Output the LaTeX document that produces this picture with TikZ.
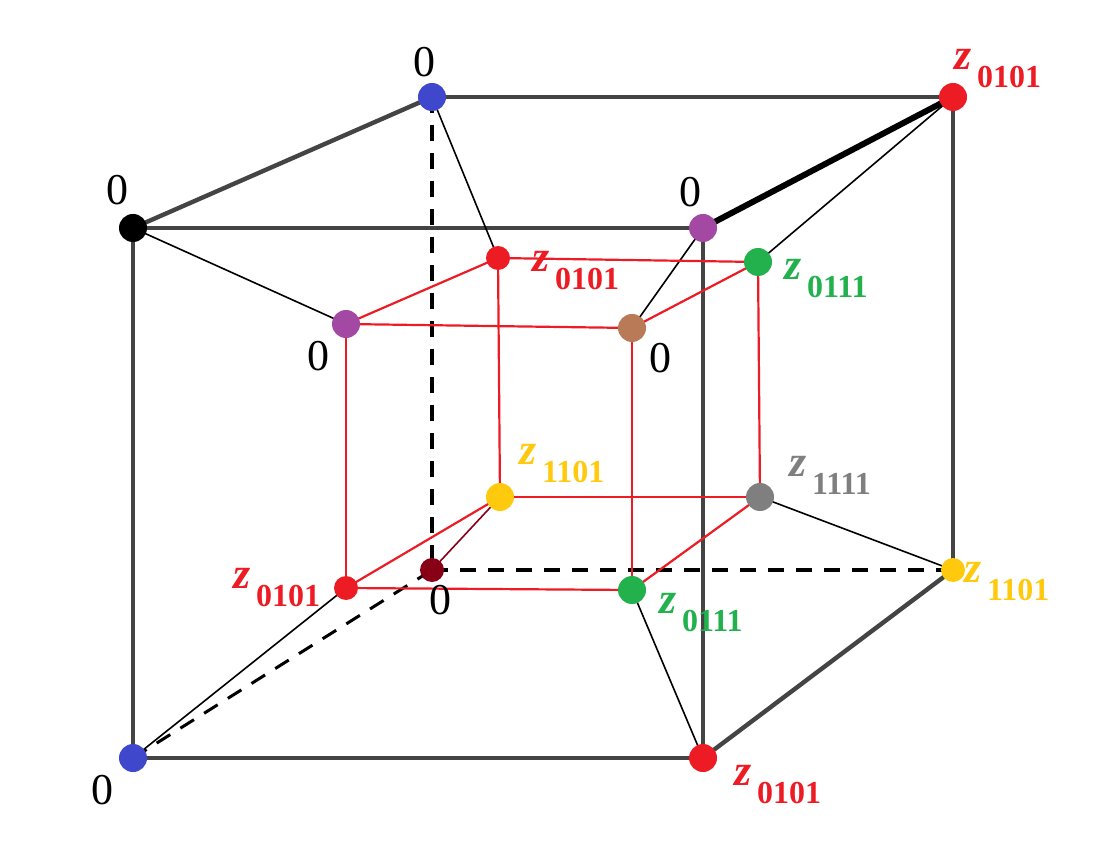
\documentclass[tikz,border=0pt]{standalone}
\usepackage{fontspec}
\setmainfont{Liberation Serif}
\usepackage{xcolor}
\usetikzlibrary{positioning}
\definecolor{cblue}{HTML}{3F48CC}
\definecolor{cred}{HTML}{ED1C24}
\definecolor{cpurple}{HTML}{A349A4}
\definecolor{cgreen}{HTML}{22B14C}
\definecolor{cyellow}{HTML}{FFC90E}
\definecolor{cgray}{HTML}{7F7F7F}
\definecolor{cbrown}{HTML}{B97A57}
\definecolor{cdark}{HTML}{880015}
\definecolor{edge}{HTML}{444444}
\newcommand\zlab[1]{\fontsize{22}{22}\selectfont\textbf{\textit{z}}\hspace{3pt}\raisebox{-9pt}{\fontsize{16}{16}\selectfont\bfseries #1}}

\begin{document}
\begin{tikzpicture}[x=0.5pt, y=-0.5pt,
    dot/.style={circle, fill=#1, inner sep=0pt, minimum size=14pt},
    outer/.style={draw=edge, line width=2.2pt},
    hidden/.style={draw=black, line width=2pt, dashed, dash pattern=on 8pt off 6pt},
    link/.style={draw=black, line width=0.8pt},
    inner/.style={draw=cred, line width=1.1pt},
    zero/.style={font=\fontsize{22}{22}\selectfont},
    zl/.style={anchor=base west, text=#1}
]
\useasboundingbox (0,0) rectangle (1097,855);
% outer cube
\coordinate (A) at (133,228);
\coordinate (B) at (432,97);
\coordinate (C) at (953,97);
\coordinate (D) at (703,228);
\coordinate (E) at (133,758);
\coordinate (F) at (703,758);
\coordinate (G) at (953,570);
\coordinate (H) at (432,570);
% inner cube
\coordinate (I1) at (498,258);
\coordinate (I2) at (758,262);
\coordinate (I3) at (346,324);
\coordinate (I4) at (632,328);
\coordinate (I5) at (500,497);
\coordinate (I6) at (760,497);
\coordinate (I7) at (346,588);
\coordinate (I8) at (632,590);

\draw [hidden] (B) -- (H);
\draw [hidden] (H) -- (G);
\draw [hidden, line width=1.5pt] (E) -- (H);
\draw [outer] (A) -- (B);
\draw [outer] (B) -- (C);
\draw [outer, line width=3pt, draw=black] (C) -- (D);
\draw [outer] (A) -- (D);
\draw [outer] (A) -- (E);
\draw [outer] (E) -- (F);
\draw [outer] (F) -- (G);
\draw [outer] (C) -- (G);
\draw [outer] (D) -- (F);

\draw [link] (A) -- (I3);
\draw [link] (B) -- (I1);
\draw [link] (C) -- (I2);
\draw [link] (D) -- (I4);
\draw [link] (E) -- (I7);
\draw [link] (F) -- (I8);
\draw [link] (G) -- (I6);
\draw [link, draw=cdark] (H) -- (I5);

\draw [inner] (I1) -- (I2);
\draw [inner] (I1) -- (I3);
\draw [inner] (I3) -- (I4);
\draw [inner] (I2) -- (I4);
\draw [inner] (I1) -- (I5);
\draw [inner] (I3) -- (I7);
\draw [inner] (I4) -- (I8);
\draw [inner] (I2) -- (I6);
\draw [inner] (I5) -- (I6);
\draw [inner] (I5) -- (I7);
\draw [inner] (I6) -- (I8);
\draw [inner] (I7) -- (I8);

\node (nA) [dot=black] at (A) {};
\node (nB) [dot=cblue] at (B) {};
\node (nC) [dot=cred] at (C) {};
\node (nD) [dot=cpurple] at (D) {};
\node (nE) [dot=cblue] at (E) {};
\node (nF) [dot=cred] at (F) {};
\node (nG) [dot=cyellow, minimum size=12pt] at (G) {};
\node (nH) [dot=cdark, minimum size=12pt] at (H) {};
\node (n1) [dot=cred, minimum size=12pt] at (I1) {};
\node (n2) [dot=cgreen] at (I2) {};
\node (n3) [dot=cpurple] at (I3) {};
\node (n4) [dot=cbrown] at (I4) {};
\node (n5) [dot=cyellow] at (I5) {};
\node (n6) [dot=cgray] at (I6) {};
\node (n7) [dot=cred, minimum size=12pt] at (I7) {};
\node (n8) [dot=cgreen] at (I8) {};

\node (lA) [zero] at (117,190) {0};
\node (lB) [zero] at (424,62) {0};
\node (lD) [zero] at (690,192) {0};
\node (l3) [zero] at (318,356) {0};
\node (l4) [zero] at (660,358) {0};
\node (lH) [zero] at (440,600) {0};
\node (lE) [zero] at (102,790) {0};

\node (lC) [zl=cred] at (947,70) {\zlab{0101}};
\node (l1) [zl=cred] at (525,272) {\zlab{0101}};
\node (l2) [zl=cgreen] at (777,280) {\zlab{0111}};
\node (l5) [zl=cyellow] at (512,465) {\zlab{1101}};
\node (l6) [zl=cgray] at (782,476) {\zlab{1111}};
\node (l7) [zl=cred] at (226,588) {\zlab{0101}};
\node (l8) [zl=cgreen] at (652,613) {\zlab{0111}};
\node (lG) [zl=cyellow] at (957,582) {\zlab{1101}};
\node (lF) [zl=cred] at (727,785) {\zlab{0101}};
\end{tikzpicture}
\end{document}
